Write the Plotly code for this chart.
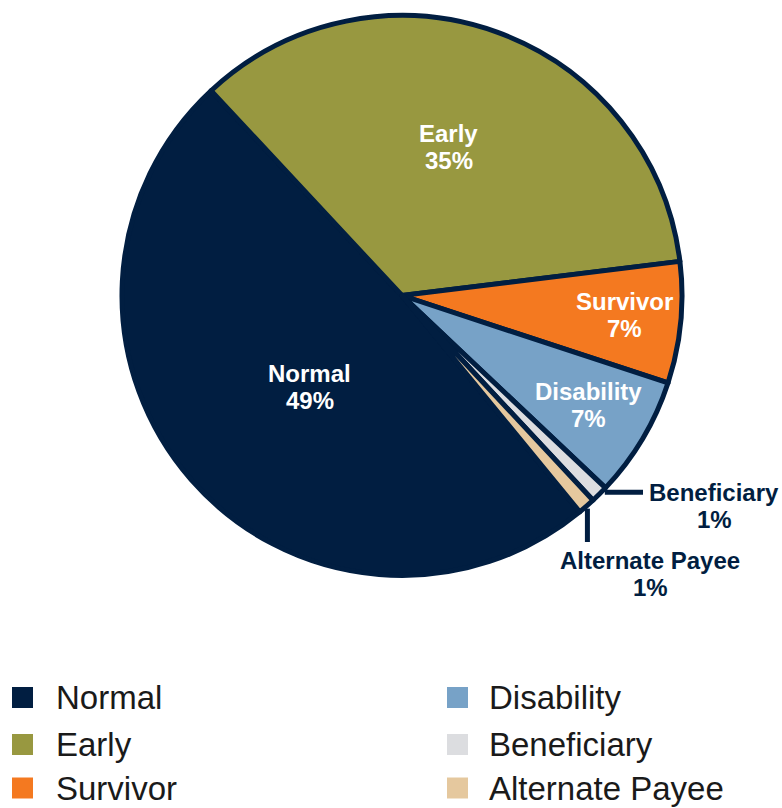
import math
import plotly.graph_objects as go

# Distribution of benefit types (share of retirees, %)
categories = ["Normal", "Early", "Survivor", "Disability", "Beneficiary", "Alternate Payee"]
shares = [49, 35, 7, 7, 1, 1]
colors = ["#011e41", "#989840", "#f47920", "#77a2c7", "#dcdde0", "#e5c89e"]

W, H = 782, 808
NAVY = "#011e41"
FONT = "Liberation Sans, Arial, Helvetica, sans-serif"

# pie geometry in pixels
CX, CY, R = 402, 295.5, 280
BORDER = 5
ROTATION = 140.6  # where the first slice starts, degrees clockwise from 12 o'clock

# label placement: radial distance (fraction of radius) for the in-slice labels,
# and where along the slice the callout leader of the small slices attaches
inside_radius = {"Normal": 0.46, "Early": 0.55, "Survivor": 0.79, "Disability": 0.765}
callout_anchor = {"Beneficiary": 0.2, "Alternate Payee": 0.55}


def px_x(x):
    return x / W


def px_y(y):
    return 1 - y / H


fig = go.Figure(
    go.Pie(
        labels=categories,
        values=shares,
        sort=False,
        direction="clockwise",
        rotation=ROTATION,
        marker=dict(colors=colors, line=dict(color=NAVY, width=BORDER)),
        textinfo="none",
        domain=dict(x=[px_x(CX - R), px_x(CX + R)], y=[px_y(CY + R), px_y(CY - R)]),
        showlegend=False,
        hoverinfo="label+percent",
    )
)

# angular extent of every slice
total = sum(shares)
edges = []
angle = ROTATION
for v in shares:
    span = v / total * 360
    edges.append((angle, angle + span))
    angle += span


def polar(deg, r):
    a = math.radians(deg)
    return CX + r * math.sin(a), CY - r * math.cos(a)


shapes = []
annotations = []
LINE_GAP = 27


def two_line_label(name, pct, x, y_first, color, size):
    """Category name with its share underneath, both centred on x."""
    for k, txt in enumerate([name, pct]):
        annotations.append(dict(text=txt, x=px_x(x), y=px_y(y_first + k * LINE_GAP),
                                xref="paper", yref="paper",
                                xanchor="center", yanchor="middle", showarrow=False,
                                font=dict(family=FONT, size=size, color=color, weight="bold")))


for i, name in enumerate(categories):
    a0, a1 = edges[i]
    pct = f"{shares[i] / total:.0%}"
    if name in inside_radius:
        lx, ly = polar(a0 + 0.48 * (a1 - a0), inside_radius[name] * (R + BORDER / 2))
        two_line_label(name, pct, lx, ly - LINE_GAP / 2, "white", 24)
    else:
        ax, ay = polar(a0 + callout_anchor[name] * (a1 - a0), R + BORDER / 2)
        if name == "Beneficiary":
            # horizontal leader to the right, text follows it
            x_end = 643
            shapes.append(dict(type="line", xref="paper", yref="paper",
                               x0=px_x(ax), y0=px_y(ay), x1=px_x(x_end), y1=px_y(ay),
                               line=dict(color=NAVY, width=BORDER)))
            two_line_label(name, pct, 714, ay, NAVY, 24)
        else:
            # vertical leader going down, text below it
            y_end = 542
            shapes.append(dict(type="line", xref="paper", yref="paper",
                               x0=px_x(ax), y0=px_y(ay), x1=px_x(ax), y1=px_y(y_end),
                               line=dict(color=NAVY, width=BORDER)))
            two_line_label(name, pct, 650, 560, NAVY, 24)

# two-column legend with large square swatches
legend_cols = [(12, 54), (447, 487)]
legend_rows = [697.5, 744.5, 788]
SW = 21
for i, name in enumerate(categories):
    col, row = divmod(i, 3)
    sx, tx = legend_cols[col]
    cy = legend_rows[row]
    shapes.append(dict(type="rect", xref="paper", yref="paper",
                       x0=px_x(sx), x1=px_x(sx + SW),
                       y0=px_y(cy + SW / 2), y1=px_y(cy - SW / 2),
                       fillcolor=colors[i], line=dict(width=0)))
    annotations.append(dict(text=name, x=px_x(tx), y=px_y(cy),
                            xref="paper", yref="paper", xanchor="left", yanchor="middle",
                            showarrow=False,
                            font=dict(family=FONT, size=33, color="#1a1a1a")))

fig.update_layout(
    width=W,
    height=H,
    margin=dict(l=0, r=0, t=0, b=0),
    paper_bgcolor="white",
    plot_bgcolor="white",
    shapes=shapes,
    annotations=annotations,
)

fig.write_html("out.html")
